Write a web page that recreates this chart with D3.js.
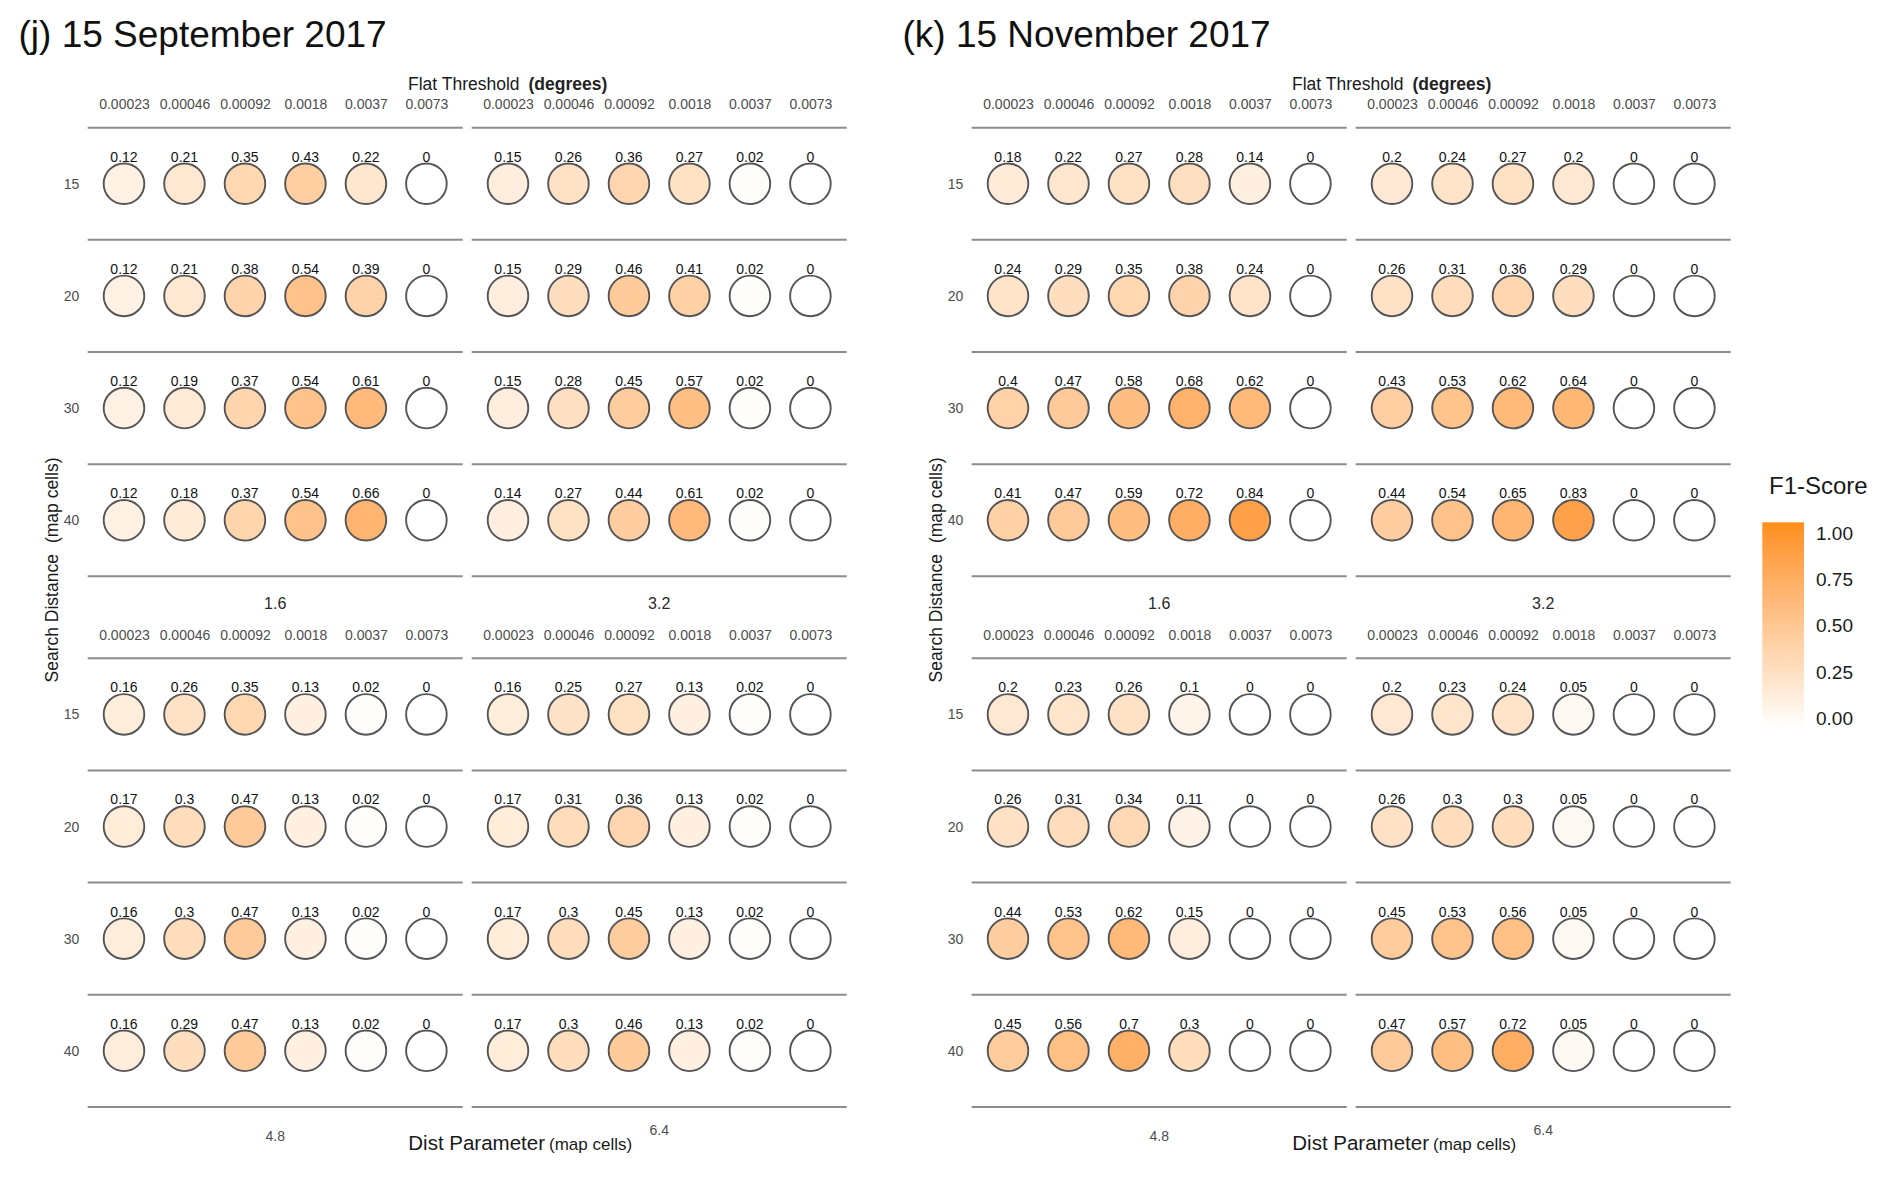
<!DOCTYPE html>
<html>
<head>
<meta charset="utf-8">
<script src="https://cdn.jsdelivr.net/npm/d3@7"></script>
<style>
  html, body { margin: 0; padding: 0; background: #ffffff; }
  svg { display: block; font-family: "Liberation Sans", Arial, Helvetica, sans-serif; }
</style>
</head>
<body>
<svg id="chart" width="1892" height="1177"></svg>
<script>
// ---------------- DATA ----------------
const thresholds = ["0.00023", "0.00046", "0.00092", "0.0018", "0.0037", "0.0073"];
const searchDistances = [15, 20, 30, 40];
const distParams = ["1.6", "3.2", "4.8", "6.4"];
const legendTicks = [0, 0.25, 0.5, 0.75, 1];
const panelTitles = ["(j) 15 September 2017", "(k) 15 November 2017"];

// rows = search distance 15, 20, 30, 40 ; columns = flat threshold
const sep_d16 = [
  [0.12, 0.21, 0.35, 0.43, 0.22, 0],
  [0.12, 0.21, 0.38, 0.54, 0.39, 0],
  [0.12, 0.19, 0.37, 0.54, 0.61, 0],
  [0.12, 0.18, 0.37, 0.54, 0.66, 0]
];
const sep_d32 = [
  [0.15, 0.26, 0.36, 0.27, 0.02, 0],
  [0.15, 0.29, 0.46, 0.41, 0.02, 0],
  [0.15, 0.28, 0.45, 0.57, 0.02, 0],
  [0.14, 0.27, 0.44, 0.61, 0.02, 0]
];
const sep_d48 = [
  [0.16, 0.26, 0.35, 0.13, 0.02, 0],
  [0.17, 0.3, 0.47, 0.13, 0.02, 0],
  [0.16, 0.3, 0.47, 0.13, 0.02, 0],
  [0.16, 0.29, 0.47, 0.13, 0.02, 0]
];
const sep_d64 = [
  [0.16, 0.25, 0.27, 0.13, 0.02, 0],
  [0.17, 0.31, 0.36, 0.13, 0.02, 0],
  [0.17, 0.3, 0.45, 0.13, 0.02, 0],
  [0.17, 0.3, 0.46, 0.13, 0.02, 0]
];
const nov_d16 = [
  [0.18, 0.22, 0.27, 0.28, 0.14, 0],
  [0.24, 0.29, 0.35, 0.38, 0.24, 0],
  [0.4, 0.47, 0.58, 0.68, 0.62, 0],
  [0.41, 0.47, 0.59, 0.72, 0.84, 0]
];
const nov_d32 = [
  [0.2, 0.24, 0.27, 0.2, 0, 0],
  [0.26, 0.31, 0.36, 0.29, 0, 0],
  [0.43, 0.53, 0.62, 0.64, 0, 0],
  [0.44, 0.54, 0.65, 0.83, 0, 0]
];
const nov_d48 = [
  [0.2, 0.23, 0.26, 0.1, 0, 0],
  [0.26, 0.31, 0.34, 0.11, 0, 0],
  [0.44, 0.53, 0.62, 0.15, 0, 0],
  [0.45, 0.56, 0.7, 0.3, 0, 0]
];
const nov_d64 = [
  [0.2, 0.23, 0.24, 0.05, 0, 0],
  [0.26, 0.3, 0.3, 0.05, 0, 0],
  [0.45, 0.53, 0.56, 0.05, 0, 0],
  [0.47, 0.57, 0.72, 0.05, 0, 0]
];
const panelData = [
  [sep_d16, sep_d32, sep_d48, sep_d64],
  [nov_d16, nov_d32, nov_d48, nov_d64]
];

// ---------------- LAYOUT ----------------
const svg = d3.select("#chart");
svg.append("rect").attr("width", 1892).attr("height", 1177).attr("fill", "#fff");

const panelOffset = 884;
const facetLeft = 87.7, facetColStep = 384, facetW = 375;
const facetTop = 127.7, facetRowStep = 530.6, facetH = 448.6;
const radius = 20.3;

const color = d3.scaleLinear().domain([0, 1]).range(["#ffffff", "#ff8e1c"]).interpolate(d3.interpolateLab);

panelData.forEach((facets, p) => {
  const ox = p * panelOffset;
  const g = svg.append("g");

  // panel title
  g.append("text")
    .attr("x", 18.5 + ox).attr("y", 46.7)
    .attr("font-size", 37).attr("fill", "#111")
    .text(panelTitles[p]);

  // top axis title
  const ft = g.append("text")
    .attr("x", 408 + ox).attr("y", 90)
    .attr("font-size", 17.5).attr("fill", "#1a1a1a");
  ft.append("tspan").text("Flat Threshold");
  ft.append("tspan").attr("dx", 9).attr("font-weight", "bold").attr("fill", "#222").text("(degrees)");

  // bottom axis title
  const bt = g.append("text")
    .attr("x", 408.3 + ox).attr("y", 1150)
    .attr("fill", "#1a1a1a");
  bt.append("tspan").attr("font-size", 20.5).text("Dist Parameter");
  bt.append("tspan").attr("dx", 4).attr("font-size", 17).text("(map cells)");

  // left axis title
  const lt = g.append("text")
    .attr("transform", `translate(${57.5 + ox},${570}) rotate(-90)`)
    .attr("text-anchor", "middle").attr("fill", "#1a1a1a").attr("font-size", 17.5);
  lt.append("tspan").text("Search Distance");
  lt.append("tspan").attr("dx", 11).text("(map cells)");

  facets.forEach((vals, fi) => {
    const col = fi % 2, row = Math.floor(fi / 2);
    const x0 = facetLeft + col * facetColStep + ox;
    const y0 = facetTop + row * facetRowStep;

    const x = d3.scalePoint().domain(thresholds).range([x0, x0 + facetW]).padding(0.6);
    const y = d3.scalePoint().domain(searchDistances).range([y0, y0 + facetH]).padding(0.5);
    const step = y.step();

    const fg = g.append("g");

    // horizontal separator lines at band boundaries
    const bounds = searchDistances.map(d => y(d) - step / 2).concat([y(searchDistances[searchDistances.length - 1]) + step / 2]);
    fg.selectAll("line.sep").data(bounds).join("line")
      .attr("class", "sep")
      .attr("x1", x0).attr("x2", x0 + facetW)
      .attr("y1", d => d).attr("y2", d => d)
      .attr("stroke", "#8c8c8c").attr("stroke-width", 2);

    // top axis tick labels
    const ax = fg.append("g").attr("transform", `translate(0,${y0})`)
      .call(d3.axisTop(x).tickSize(0).tickPadding(18.7));
    ax.select(".domain").remove();
    ax.selectAll("text").attr("font-size", 14).attr("fill", "#4d4d4d")
      .attr("font-family", "'Liberation Sans', Arial, sans-serif");

    // left axis tick labels
    if (col === 0) {
      const ay = fg.append("g").attr("transform", `translate(${x0},0)`)
        .call(d3.axisLeft(y).tickSize(0).tickPadding(8.4));
      ay.select(".domain").remove();
      ay.selectAll("text").attr("font-size", 14).attr("fill", "#4d4d4d")
        .attr("font-family", "'Liberation Sans', Arial, sans-serif");
    }

    // strip label below facet
    const stripTop = row === 0;
    fg.append("text")
      .attr("x", x0 + facetW / 2)
      .attr("y", y0 + facetH + (stripTop ? 32.5 : (col === 1 ? 28.5 : 34)))
      .attr("text-anchor", "middle")
      .attr("font-size", stripTop ? 16 : 14)
      .attr("fill", stripTop ? "#2a2a2a" : "#4d4d4d")
      .text(distParams[fi]);

    // cells
    const cells = [];
    vals.forEach((r, ri) => r.forEach((v, ci) => cells.push({ sd: searchDistances[ri], th: thresholds[ci], v })));

    fg.selectAll("circle.cell").data(cells).join("circle")
      .attr("class", "cell")
      .attr("cx", d => x(d.th)).attr("cy", d => y(d.sd)).attr("r", radius)
      .attr("fill", d => color(d.v))
      .attr("stroke", "#555").attr("stroke-width", 1.9);

    fg.selectAll("text.val").data(cells).join("text")
      .attr("class", "val")
      .attr("x", d => x(d.th)).attr("y", d => y(d.sd) - radius - 1.8)
      .attr("text-anchor", "middle")
      .attr("font-size", 14).attr("fill", "#111")
      .text(d => String(d.v));
  });
});

// ---------------- LEGEND ----------------
const ly = d3.scaleLinear().domain([0, 1]).range([718.3, 532.7]);
const defs = svg.append("defs");
const grad = defs.append("linearGradient").attr("id", "f1grad")
  .attr("x1", 0).attr("y1", 1).attr("x2", 0).attr("y2", 0);
d3.range(0, 1.0001, 0.1).forEach(t => {
  grad.append("stop").attr("offset", t).attr("stop-color", color(t));
});
const barTop = ly(1.056), barBot = ly(-0.056);
svg.append("rect")
  .attr("x", 1762.3).attr("y", barTop)
  .attr("width", 41.7).attr("height", barBot - barTop)
  .attr("fill", "url(#f1grad)");

svg.append("text").attr("x", 1769).attr("y", 494)
  .attr("font-size", 24).attr("fill", "#1a1a1a").text("F1-Score");

svg.selectAll("text.leg").data(legendTicks).join("text")
  .attr("class", "leg")
  .attr("x", 1816).attr("y", d => ly(d)).attr("dy", "0.36em")
  .attr("font-size", 19).attr("fill", "#1a1a1a")
  .text(d => d3.format(".2f")(d));
</script>
</body>
</html>
